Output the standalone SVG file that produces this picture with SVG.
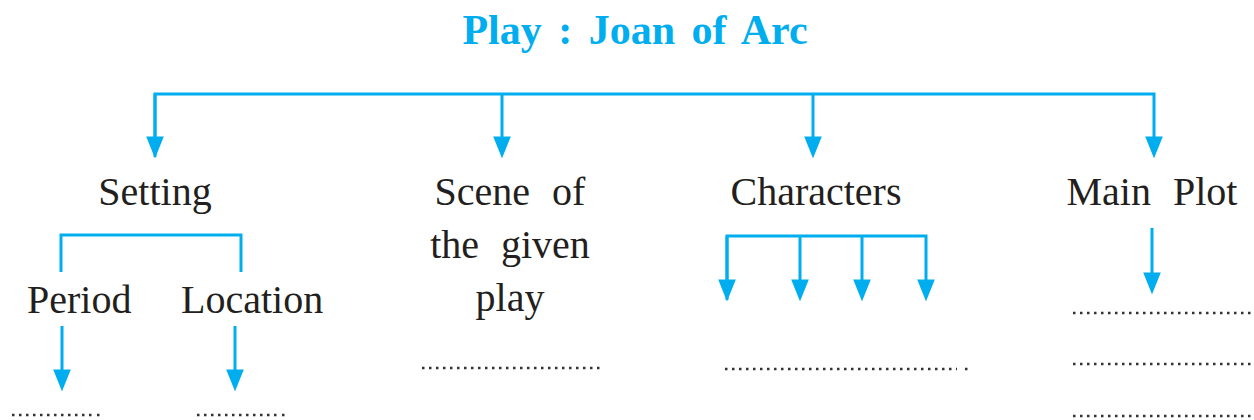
<svg xmlns="http://www.w3.org/2000/svg" width="1254" height="420" viewBox="0 0 1254 420">
<style>
.t{font-family:"Liberation Serif","Times New Roman",serif;font-size:40px;fill:#231F20;word-spacing:12px}
.title{font-family:"Liberation Serif","Times New Roman",serif;font-size:42px;font-weight:bold;fill:#00AEEF;word-spacing:6px}
.c{fill:none;stroke:#00AEEF;stroke-width:3}
.d{fill:none;stroke:#333;stroke-width:2.5;stroke-dasharray:2.5 4.5}
</style>
<defs>
<marker id="ah" markerUnits="userSpaceOnUse" markerWidth="22" markerHeight="18" refX="6" refY="8" orient="auto" viewBox="0 0 20 16">
<path d="M0,0 L20,8 L0,16 z" fill="#00AEEF"/>
</marker>
</defs>
<rect width="1254" height="420" fill="#fff"/>
<g id="title"><text class="title" x="635" y="44" text-anchor="middle">Play : Joan of Arc</text></g>
<g id="connectors">
<path class="c" d="M155,157 V94 H1154 V143" marker-end="url(#ah)" stroke-linejoin="miter"/>
<path class="c" d="M155,94 V143" marker-end="url(#ah)"/>
<path class="c" d="M502,94 V143" marker-end="url(#ah)"/>
<path class="c" d="M813,94 V143" marker-end="url(#ah)"/>
<path class="c" d="M61,272 V235 H241 V272"/>
<path class="c" d="M62,326 V376" marker-end="url(#ah)"/>
<path class="c" d="M235,326 V376" marker-end="url(#ah)"/>
<path class="c" d="M727,300 V236 H926 V286" marker-end="url(#ah)"/>
<path class="c" d="M727,236 V286" marker-end="url(#ah)"/>
<path class="c" d="M800,236 V286" marker-end="url(#ah)"/>
<path class="c" d="M862,236 V286" marker-end="url(#ah)"/>
<path class="c" d="M1152,228 V279" marker-end="url(#ah)"/>
</g>
<g id="setting"><text class="t" x="155" y="205" text-anchor="middle">Setting</text></g>
<g id="scene">
<text class="t" x="510" y="205" text-anchor="middle">Scene of</text>
<text class="t" x="510" y="258" text-anchor="middle">the given</text>
<text class="t" x="510" y="311" text-anchor="middle">play</text>
</g>
<g id="characters"><text class="t" x="816" y="205" text-anchor="middle">Characters</text></g>
<g id="mainplot"><text class="t" x="1152" y="205" text-anchor="middle">Main Plot</text></g>
<g id="period"><text class="t" x="27" y="313">Period</text></g>
<g id="location"><text class="t" x="181" y="313">Location</text></g>
<g id="blanks">
<path class="d" d="M12,415 H92 M97,415 H100"/>
<path class="d" d="M197,415 H277 M282,415 H285"/>
<path class="d" d="M422,368 H604"/>
<path class="d" d="M725,369 H957 M965,369 H968"/>
<path class="d" d="M1073,313 H1254 M1073,364 H1254 M1073,416 H1254"/>
</g>
</svg>
